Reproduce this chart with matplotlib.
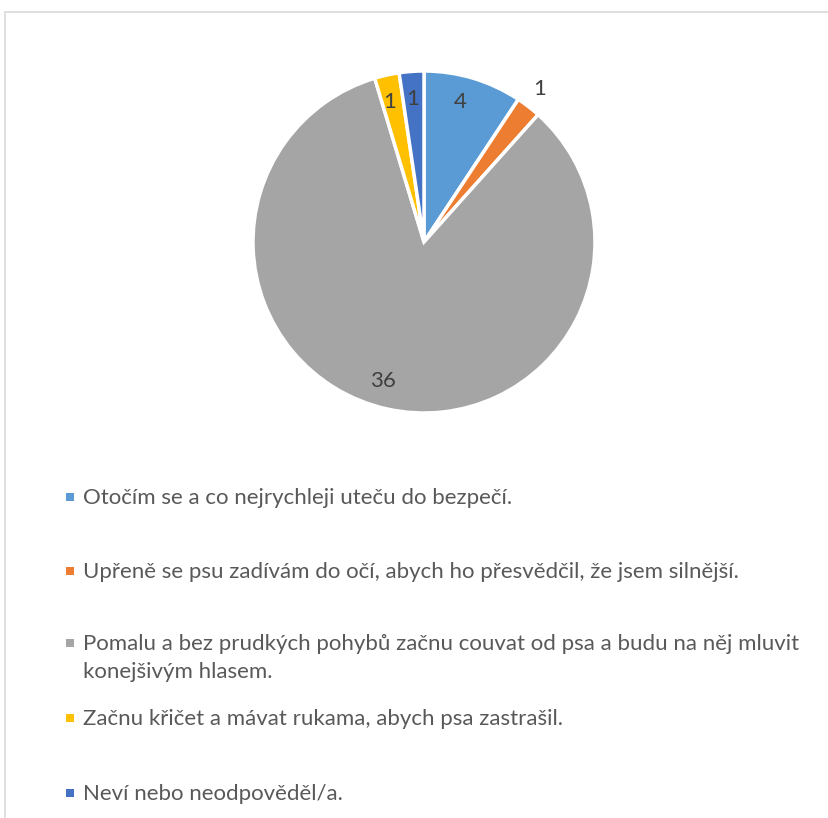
import matplotlib.pyplot as plt
from matplotlib.patches import Rectangle
import numpy as np

# data
labels = [
    'Otočím se a co nejrychleji uteču do bezpečí.',
    'Upřeně se psu zadívám do očí, abych ho přesvědčil, že jsem silnější.',
    'Pomalu a bez prudkých pohybů začnu couvat od psa a budu na něj mluvit\nkonejšivým hlasem.',
    'Začnu křičet a mávat rukama, abych psa zastrašil.',
    'Neví nebo neodpověděl/a.',
]
values = [4, 1, 36, 1, 1]
colors = ['#5B9BD5', '#ED7D31', '#A5A5A5', '#FFC000', '#4472C4']

# label placement (radius as fraction, angle in degrees)
label_pos = [(0.845, 75.5), (1.12, 52.9), (0.85, 253.6), (0.84, 103.7), (0.84, 94.4)]
# legend rows, pixel y of first line centre
legend_y = [497, 571, 643, 718, 793]

W, H = 829, 818
fig = plt.figure(figsize=(W / 100, H / 100), dpi=100)
plt.rcParams['font.family'] = ['Lato', 'DejaVu Sans']

# chart border (top and left visible)
fig.patches.append(Rectangle((5.5 / W, -0.1), 1.2, 1.1 - 12.5 / H, transform=fig.transFigure,
                             fill=False, edgecolor='#D9D9D9', linewidth=1.2))

cx, cy, r = 424, 242, 171
ax = fig.add_axes([(cx - r) / W, (H - cy - r) / H, 2 * r / W, 2 * r / H])
ax.pie(values, colors=colors, startangle=90, counterclock=False, radius=1,
       wedgeprops=dict(edgecolor='white', linewidth=2.5))
ax.set_xlim(-1, 1)
ax.set_ylim(-1, 1)
ax.set_aspect('equal')
ax.axis('off')

for v, (rr, ang) in zip(values, label_pos):
    a = np.deg2rad(ang)
    ax.text(rr * np.cos(a), rr * np.sin(a), str(v), ha='center', va='center',
            fontsize=16, color='#404040')

# legend
for lab, col, y in zip(labels, colors, legend_y):
    fig.patches.append(Rectangle((66 / W, 1 - (y + 4) / H), 8 / W, 8 / H,
                                 transform=fig.transFigure, facecolor=col, edgecolor='none'))
    fig.text(83 / W, 1 - (y - 9) / H, lab, ha='left', va='top', fontsize=16,
             color='#595959', linespacing=1.5)

fig.savefig('out.png', dpi=100)
